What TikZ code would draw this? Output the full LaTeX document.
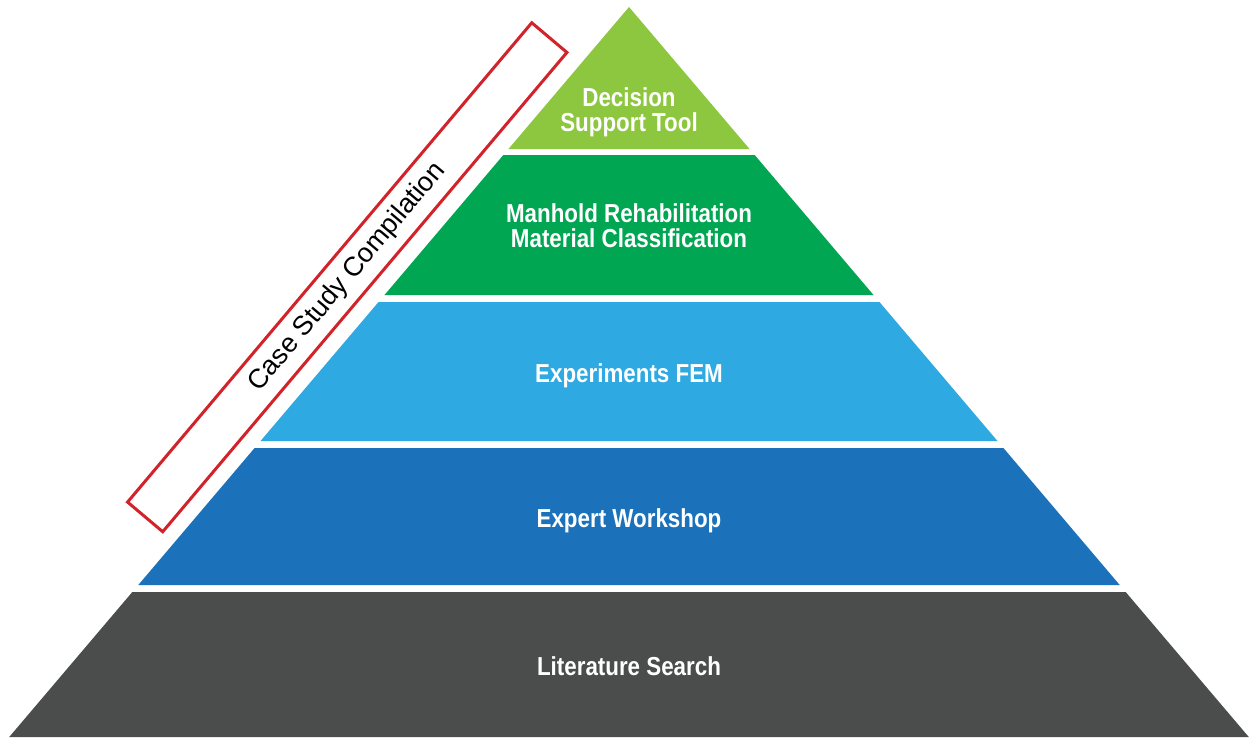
\documentclass[tikz,border=0pt]{standalone}
\usepackage{fontspec}
\setmainfont{Liberation Sans}
\newfontfamily\labelfont[FakeStretch=0.86]{Liberation Sans}
\usetikzlibrary{calc}

\definecolor{tierA}{HTML}{8DC63F}
\definecolor{tierB}{HTML}{00A651}
\definecolor{tierC}{HTML}{2EA9E1}
\definecolor{tierD}{HTML}{1B72BB}
\definecolor{tierE}{HTML}{4B4D4D}
\definecolor{frameRed}{HTML}{D2232A}

% one horizontal slice of the pyramid (apex at (629,7), side slope 0.849)
\newcommand{\pyrslice}[3]{%
  \pgfmathsetmacro{\hwtop}{0.849*(#1-7)}%
  \pgfmathsetmacro{\hwbot}{0.849*(#2-7)}%
  \fill[#3] (629-\hwtop,#1) -- (629+\hwtop,#1) -- (629+\hwbot,#2) -- (629-\hwbot,#2) -- cycle;%
}

\tikzset{
  tierlabel/.style={text=white, font=\labelfont\bfseries\fontsize{26}{25}\selectfont,
    align=center, inner sep=0pt},
  sidebox/.style={draw=frameRed, line width=3pt, minimum width=627pt, minimum height=46pt,
    inner sep=0pt, font=\fontsize{27}{30}\selectfont, text=black}
}

\begin{document}
\begin{tikzpicture}[x=1pt, y=-1pt]
  \useasboundingbox (0,0) rectangle (1249,739);
  \fill[white] (0,0) rectangle (1249,739);

  % pyramid tiers, top to bottom
  \pyrslice{7}{149}{tierA}
  \pyrslice{155}{295}{tierB}
  \pyrslice{302}{441}{tierC}
  \pyrslice{448}{585}{tierD}
  \pyrslice{592}{737}{tierE}

  % tier labels
  \node[tierlabel] (dst) at (629,112) {Decision\\Support Tool};
  \node[tierlabel] (mrm) at (629,225.5) {Manhold Rehabilitation\\Material Classification};
  \node[tierlabel, anchor=base] (fem) at (629,382) {Experiments FEM};
  \node[tierlabel, anchor=base] (ews) at (629,527) {Expert Workshop};
  \node[tierlabel, anchor=base] (lit) at (629,675) {Literature Search};

  % slanted frame along the left side
  \node[sidebox, rotate=49.86] (csc) at (347.25,277.25) {Case Study Compilation};
\end{tikzpicture}
\end{document}
